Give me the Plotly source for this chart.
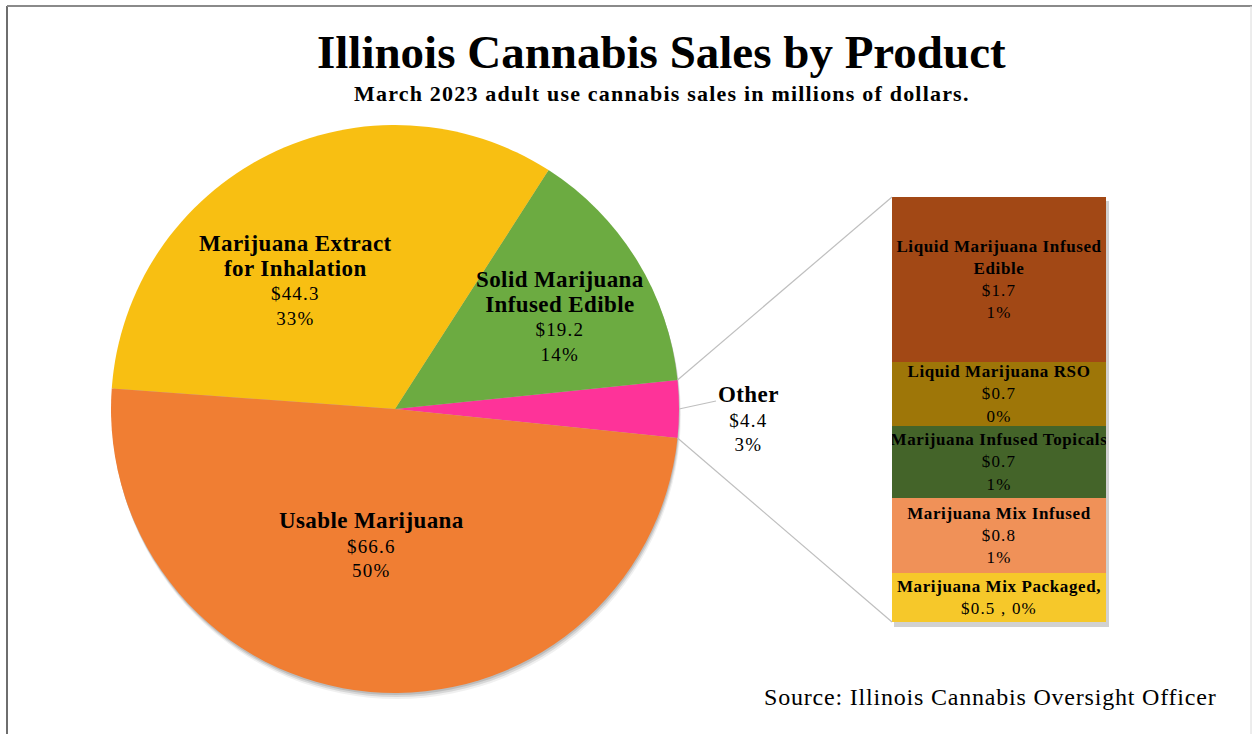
import math
import plotly.graph_objects as go

# ---------------- data ----------------
main_categories = ["Usable Marijuana", "Marijuana Extract for Inhalation", "Solid Marijuana Infused Edible"]
main_values = [66.6, 44.3, 19.2]

other_label = "Other"
other_categories = ["Marijuana Mix Packaged", "Marijuana Mix Infused", "Marijuana Infused Topicals",
                    "Liquid Marijuana RSO", "Liquid Marijuana Infused Edible"]
other_values = [0.50, 0.78, 0.74, 0.66, 1.70]

title_text = "Illinois Cannabis Sales by Product"
subtitle_text = "March 2023 adult use cannabis sales in millions of dollars."
source_text = "Source: Illinois Cannabis Oversight Officer"

# ---------------- styles ----------------
W, H = 1253, 734
SERIF = "Liberation Serif"

main_colors = {"Usable Marijuana": "#F07E33",
               "Marijuana Extract for Inhalation": "#F8BF12",
               "Solid Marijuana Infused Edible": "#6CAB41"}
other_color = "#FE3399"
bar_colors = ["#F6C82A", "#F09158", "#446429", "#9E7608", "#A24815"]


def px(x):
    return x / W


def py(y):
    return 1 - y / H


def spaced(s, ls):
    return f"<span style='letter-spacing:{ls}px'>{s}</span>"


other_total = sum(other_values)
grand_total = sum(main_values) + other_total

# pie order (counterclockwise from 3 o'clock): Other, Solid, Extract, Usable
pie_labels = [other_label] + main_categories[::-1]
pie_values = [other_total] + main_values[::-1]
pie_colors = [other_color] + [main_colors[c] for c in main_categories[::-1]]
other_angle = other_total / grand_total * 360.0

# pie geometry (pixels)
CX, CY, R = 395.0, 409.0, 284.0
pie_domain = dict(x=[px(CX - R), px(CX + R)], y=[py(CY + R), py(CY - R)])

fig = go.Figure()

# soft shadow under the pie
for off, alpha in [(6, 0.06), (4, 0.10), (2, 0.12)]:
    fig.add_trace(go.Pie(
        values=[grand_total], labels=["shadow"], sort=False,
        domain=dict(x=[px(CX - R + off * 0.3), px(CX + R + off * 0.3)],
                    y=[py(CY + R + off), py(CY - R + off)]),
        marker=dict(colors=[f"rgba(0,0,0,{alpha})"], line=dict(width=0)),
        textinfo="none", hoverinfo="skip", showlegend=False))

fig.add_trace(go.Pie(
    labels=pie_labels, values=pie_values, sort=False,
    direction="counterclockwise", rotation=90 - other_angle / 2,
    domain=pie_domain,
    marker=dict(colors=pie_colors, line=dict(width=0)),
    textinfo="none", hoverinfo="label+value+percent", showlegend=False))

# stacked bar for the "Other" breakdown
BAR_L, BAR_R, BAR_T, BAR_B = 892.0, 1106.0, 197.0, 622.0
display_names = {"Liquid Marijuana Infused Edible": "Liquid Marijuana Infused<br>Edible"}
for cat, val, col in zip(other_categories, other_values, bar_colors):
    name = display_names.get(cat, cat)
    pct = f"{val / grand_total * 100:.0f}%"
    if cat == other_categories[0]:
        txt = f"<b>{spaced(name + ',', 0.6)}</b><br>{spaced(f'${val:.1f} , {pct}', 1.2)}"
    else:
        nm = "<br>".join(spaced(p, 0.6) for p in name.split("<br>"))
        txt = f"<b>{nm}</b><br>{spaced(f'${val:.1f}', 1.2)}<br>{spaced(pct, 1.2)}"
    fig.add_trace(go.Bar(
        x=[other_label], y=[val], name=cat, width=[1.0],
        marker=dict(color=col, line=dict(width=0)),
        text=[txt], textposition="inside", insidetextanchor="middle",
        textangle=0, constraintext="none",
        textfont=dict(family=SERIF, size=17, color="black"),
        hoverinfo="name+y", showlegend=False))

fig.update_layout(
    width=W, height=H, margin=dict(l=0, r=0, t=0, b=0),
    paper_bgcolor="white", plot_bgcolor="rgba(0,0,0,0)",
    barmode="stack", bargap=0,
    xaxis=dict(domain=[px(BAR_L), px(BAR_R)], range=[-0.5, 0.5], visible=False, fixedrange=True),
    yaxis=dict(domain=[py(BAR_B), py(BAR_T)], range=[0, other_total], visible=False, fixedrange=True),
    font=dict(family=SERIF, color="black"),
)

# ---------------- annotations ----------------
def note(x, y, text, size, bold=False):
    return dict(xref="paper", yref="paper", x=px(x), y=py(y), xanchor="center", yanchor="middle",
                text=text, showarrow=False, align="center",
                font=dict(family=SERIF, size=size, color="black", weight="bold" if bold else "normal"))


ann = [note(661, 52, title_text, 47, True),
       note(662, 93, spaced(subtitle_text, 1.2), 22, True),
       note(990, 697, spaced(source_text, 0.8), 24)]


def pie_label(name, val, x, y):
    nm = "<br>".join(f"<span style='font-size:23px;letter-spacing:0.4px'><b>{p}</b></span>"
                     for p in name.split("<br>"))
    txt = f"{nm}<br>{spaced(f'${val:.1f}', 1.2)}<br>{spaced(f'{val / grand_total * 100:.0f}%', 1.2)}"
    return note(x, y, txt, 19)


label_pos = {"Marijuana Extract for Inhalation": (295, 280, "Marijuana Extract<br>for Inhalation"),
             "Solid Marijuana Infused Edible": (560, 316, "Solid Marijuana<br>Infused Edible"),
             "Usable Marijuana": (371, 544, "Usable Marijuana")}
for cat, val in zip(main_categories, main_values):
    x, y, nm = label_pos[cat]
    ann.append(pie_label(nm, val, x, y))
ann.append(pie_label(other_label, other_total, 748, 418))
fig.update_layout(annotations=ann)

# ---------------- connector lines & frame ----------------
half = math.radians(other_angle / 2)
top_pt = (CX + R * math.cos(half), CY - R * math.sin(half))
bot_pt = (CX + R * math.cos(half), CY + R * math.sin(half))
shapes = []
line_style = dict(color="#BFBFBF", width=1.2)
shapes.append(dict(type="line", xref="paper", yref="paper",
                   x0=px(top_pt[0]), y0=py(top_pt[1]), x1=px(BAR_L), y1=py(BAR_T), line=line_style))
shapes.append(dict(type="line", xref="paper", yref="paper",
                   x0=px(bot_pt[0]), y0=py(bot_pt[1]), x1=px(BAR_L), y1=py(BAR_B), line=line_style))
shapes.append(dict(type="line", xref="paper", yref="paper",
                   x0=px(CX + R), y0=py(CY), x1=px(716), y1=py(401), line=line_style))
# bar shadow
shapes.append(dict(type="rect", xref="paper", yref="paper", layer="below",
                   x0=px(BAR_L + 2), x1=px(BAR_R + 3), y0=py(BAR_B + 5), y1=py(BAR_T + 4),
                   fillcolor="rgba(0,0,0,0.18)", line=dict(width=0)))
# frame
shapes.append(dict(type="line", xref="paper", yref="paper",
                   x0=px(7), x1=px(7), y0=py(6), y1=-0.05, line=dict(color="#6E6E6E", width=2)))
shapes.append(dict(type="line", xref="paper", yref="paper",
                   x0=px(7), x1=px(1252), y0=py(6), y1=py(6), line=dict(color="#8A8A8A", width=2)))
shapes.append(dict(type="line", xref="paper", yref="paper",
                   x0=px(1251), x1=px(1251), y0=py(6), y1=-0.05, line=dict(color="#DADADA", width=1)))
fig.update_layout(shapes=shapes)

fig.write_html("out.html", config={"displayModeBar": False},
               post_script="document.body.style.margin='0';")
